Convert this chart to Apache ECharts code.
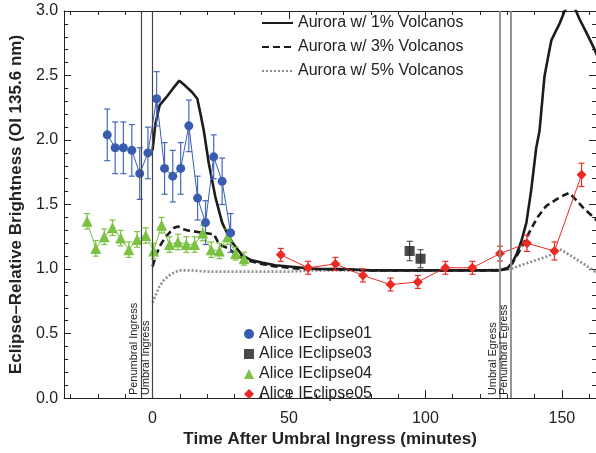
<!DOCTYPE html>
<html>
<head>
<meta charset="utf-8">
<script src="https://cdn.jsdelivr.net/npm/echarts@6/dist/echarts.min.js"></script>
<style>
  html, body { margin: 0; padding: 0; background: #fff; }
  #chart { width: 596px; height: 453px; }
</style>
</head>
<body>
<div id="chart"></div>
<script>
// Aurora model curves (eclipse-relative brightness vs. minutes after umbral ingress)
const model1Time = [0, 1, 2.6, 5, 7.5, 9.8, 12, 14.5, 16.4, 17.6, 18.8, 20.6, 23, 25.5, 27.3, 29.1, 32.7, 36, 40, 45, 50, 55, 60, 70, 80, 90, 100, 110, 120, 127.3, 130.2, 131.8, 133.3, 135.2, 137, 138.8, 140.6, 141.8, 143.6, 145, 146.1, 147.9, 149.1, 151, 153.4, 155.2, 156.4, 158.8, 161.8, 163];
const model1Value = [1.92, 2.12, 2.27, 2.33, 2.40, 2.46, 2.42, 2.37, 2.32, 2.20, 2.07, 1.82, 1.56, 1.36, 1.28, 1.21, 1.11, 1.07, 1.05, 1.03, 1.02, 1.01, 1.00, 1.00, 0.99, 0.99, 0.99, 0.99, 0.99, 0.99, 1.01, 1.05, 1.11, 1.22, 1.36, 1.62, 1.94, 2.07, 2.49, 2.65, 2.77, 2.85, 2.90, 3.00, 3.08, 3.00, 2.94, 2.84, 2.71, 2.65];

const model3Time = [0, 1.5, 3, 4.8, 7.9, 9.3, 11, 12.7, 15.8, 19, 22.5, 24.2, 25.5, 27.9, 30, 32.7, 36, 40, 45, 50, 55, 60, 80, 100, 120, 127.3, 130, 132, 135, 138.2, 141, 144.3, 148, 150.5, 152.7, 155, 158, 162.2, 163];
const model3Value = [1.02, 1.12, 1.19, 1.25, 1.32, 1.33, 1.31, 1.30, 1.29, 1.28, 1.27, 1.20, 1.18, 1.16, 1.12, 1.09, 1.06, 1.04, 1.02, 1.01, 1.00, 1.00, 0.99, 0.99, 0.99, 0.99, 1.00, 1.05, 1.16, 1.29, 1.40, 1.49, 1.54, 1.57, 1.59, 1.54, 1.47, 1.39, 1.37];

const model5Time = [0, 1.2, 2.4, 4, 6, 8, 9.7, 12, 14, 20, 30, 40, 50, 60, 80, 100, 120, 131.2, 135, 140.6, 145, 149.7, 152, 155, 158, 162.2, 163];
const model5Value = [0.74, 0.80, 0.86, 0.91, 0.95, 0.975, 0.99, 0.99, 0.99, 0.98, 0.98, 0.98, 0.98, 0.99, 0.99, 0.99, 0.99, 1.00, 1.03, 1.07, 1.10, 1.15, 1.12, 1.08, 1.04, 0.98, 0.98];

// Alice observations
const eclipse01Time = [-16.6, -13.7, -10.7, -7.6, -4.7, -1.7, 1.5, 4.4, 7.4, 10.3, 13.3, 16.5, 19.4, 22.4, 25.5, 28.6];
const eclipse01Value = [2.04, 1.94, 1.94, 1.92, 1.74, 1.90, 2.32, 1.78, 1.72, 1.78, 2.11, 1.55, 1.36, 1.87, 1.68, 1.28];
const eclipse01Err = [0.20, 0.20, 0.20, 0.20, 0.20, 0.20, 0.21, 0.20, 0.20, 0.20, 0.20, 0.17, 0.17, 0.17, 0.18, 0.15];

const eclipse03Time = [94.2, 98.2];
const eclipse03Value = [1.14, 1.08];
const eclipse03Err = [0.075, 0.07];

const eclipse04Time = [-24.0, -20.8, -17.7, -14.7, -11.7, -8.7, -5.7, -2.5, 0.4, 3.3, 6.2, 9.3, 12.4, 15.4, 18.4, 21.5, 24.5, 27.5, 30.4, 33.5];
const eclipse04Value = [1.37, 1.16, 1.25, 1.32, 1.24, 1.15, 1.23, 1.26, 1.14, 1.34, 1.19, 1.21, 1.19, 1.19, 1.28, 1.15, 1.14, 1.25, 1.12, 1.08];
const eclipse04Err = [0.06, 0.06, 0.06, 0.06, 0.06, 0.06, 0.06, 0.06, 0.06, 0.06, 0.06, 0.06, 0.06, 0.06, 0.06, 0.06, 0.06, 0.06, 0.05, 0.05];

const eclipse05Time = [47.0, 57.0, 67.0, 77.1, 87.2, 97.2, 107.3, 117.2, 127.3, 137.2, 147.3, 157.2];
const eclipse05Value = [1.11, 1.01, 1.04, 0.95, 0.88, 0.90, 1.01, 1.01, 1.12, 1.20, 1.14, 1.73];
const eclipse05Err = [0.05, 0.05, 0.05, 0.05, 0.05, 0.05, 0.05, 0.05, 0.057, 0.063, 0.07, 0.09];

// Shadow contact times (minutes after umbral ingress)
const contactNames = ['Penumbral Ingress', 'Umbral Ingress', 'Umbral Egress', 'Penumbral Egress'];
const contactTime = [-4.3, 0, 127.3, 131.3];

// Axis ticks
const xMajorTicks = [0, 50, 100, 150];
const xMinorTicks = [-30, -20, -10, 10, 20, 30, 40, 60, 70, 80, 90, 110, 120, 130, 140, 160];

const FONT = "'Liberation Sans', Arial, Helvetica, sans-serif";
const X_MIN = -32.4, X_MAX = 162.5;
const INK = '#222';

const zip = (a, b) => a.map((t, i) => [t, b[i]]);

function errorBarSeries(name, times, vals, errs, color, capHalf) {
  return {
    type: 'custom',
    name: name,
    z: 3,
    silent: true,
    data: times.map((t, i) => [t, vals[i] - errs[i], vals[i] + errs[i]]),
    encode: { x: 0, y: [1, 2] },
    renderItem: function (params, api) {
      const lo = api.coord([api.value(0), api.value(1)]);
      const hi = api.coord([api.value(0), api.value(2)]);
      const style = { stroke: color, lineWidth: 1.2 };
      return {
        type: 'group',
        children: [
          { type: 'line', shape: { x1: lo[0], y1: lo[1], x2: hi[0], y2: hi[1] }, style: style },
          { type: 'line', shape: { x1: lo[0] - capHalf, y1: lo[1], x2: lo[0] + capHalf, y2: lo[1] }, style: style },
          { type: 'line', shape: { x1: hi[0] - capHalf, y1: hi[1], x2: hi[0] + capHalf, y2: hi[1] }, style: style }
        ]
      };
    }
  };
}

function xAxisDef(position, ticks, len, withLine, withLabels) {
  return {
    type: 'value', min: X_MIN, max: X_MAX, position: position,
    axisLine: { show: withLine, onZero: false, lineStyle: { color: INK, width: 1 } },
    axisTick: { show: true, inside: true, length: len, customValues: ticks, lineStyle: { color: INK, width: 1 } },
    axisLabel: { show: withLabels, customValues: ticks, fontSize: 16, color: INK, margin: 12, fontFamily: FONT },
    splitLine: { show: false }
  };
}

function yAxisDef(position, withLabels) {
  return {
    type: 'value', min: 0, max: 3, interval: 0.5, position: position,
    axisLine: { show: true, onZero: false, lineStyle: { color: INK, width: 1 } },
    axisTick: { show: true, inside: true, length: 7, lineStyle: { color: INK } },
    minorTick: { show: true, splitNumber: 5, length: 4, lineStyle: { color: INK } },
    axisLabel: { show: withLabels, fontSize: 16, color: INK, margin: 6, fontFamily: FONT,
      formatter: v => v.toFixed(1) },
    splitLine: { show: false }
  };
}

const xBottom = xAxisDef('bottom', xMajorTicks, 8, true, true);
xBottom.name = 'Time After Umbral Ingress (minutes)';
xBottom.nameLocation = 'middle';
xBottom.nameGap = 27;
xBottom.nameTextStyle = { fontSize: 17, fontWeight: 'bold', color: INK, fontFamily: FONT };

const yLeft = yAxisDef('left', true);
yLeft.name = 'Eclipse\u2013Relative Brightness (OI 135.6 nm)';
yLeft.nameLocation = 'middle';
yLeft.nameGap = 36;
yLeft.nameTextStyle = { fontSize: 17, fontWeight: 'bold', color: INK, fontFamily: FONT };

const contactLines = contactTime.map((t, i) => {
  const ingress = i < 2;
  return [
    { name: contactNames[i], coord: [t, 0],
      lineStyle: { color: ingress ? '#444' : '#8a8a8a', width: ingress ? 1.2 : 1.8, type: 'solid' } },
    { coord: [t, 3] }
  ];
});

const BLUE = '#3a5cb0', GREEN = '#7cc242', RED = '#ec2a24', BLACK = '#1c1c1c';

const option = {
  animation: false,
  backgroundColor: '#fff',
  textStyle: { fontFamily: FONT },
  grid: { left: 61, top: 11, width: 536, height: 398 },
  xAxis: [
    xBottom,
    xAxisDef('bottom', xMinorTicks, 4, false, false),
    xAxisDef('top', xMajorTicks, 8, true, false),
    xAxisDef('top', xMinorTicks, 4, false, false)
  ],
  yAxis: [yLeft, yAxisDef('right', false)],
  legend: [
    {
      orient: 'vertical', left: 256, top: 10, itemWidth: 31, itemHeight: 14, itemGap: 8,
      selectedMode: false,
      itemStyle: { opacity: 0 },
      textStyle: { fontSize: 16, color: INK, lineHeight: 16, fontFamily: FONT },
      data: ['Aurora w/ 1% Volcanos', 'Aurora w/ 3% Volcanos', 'Aurora w/ 5% Volcanos']
    },
    {
      orient: 'vertical', left: 239, top: 321, itemWidth: 10, itemHeight: 10, itemGap: 4,
      selectedMode: false,
      textStyle: { fontSize: 16, color: INK, lineHeight: 16, fontFamily: FONT },
      data: [
        { name: 'Alice IEclipse01', icon: 'circle' },
        { name: 'Alice IEclipse03', icon: 'rect' },
        { name: 'Alice IEclipse04', icon: 'triangle' },
        { name: 'Alice IEclipse05', icon: 'diamond' }
      ]
    }
  ],
  series: [
    {
      type: 'line', name: 'contacts', data: [], silent: true,
      markLine: {
        silent: true, symbol: ['none', 'none'], animation: false,
        label: { show: true, position: 'insideStartTop', formatter: '{b}', fontSize: 11,
          color: INK, distance: [3, 1], fontFamily: FONT },
        data: contactLines
      }
    },
    {
      type: 'line', name: 'Aurora w/ 5% Volcanos', data: zip(model5Time, model5Value),
      symbol: 'none', z: 2, lineStyle: { color: '#8e8e8e', width: 2.6, type: [2, 2] },
      itemStyle: { color: '#8e8e8e' }
    },
    {
      type: 'line', name: 'Aurora w/ 3% Volcanos', data: zip(model3Time, model3Value),
      symbol: 'none', z: 2, lineStyle: { color: BLACK, width: 2.6, type: [7, 4] },
      itemStyle: { color: BLACK }
    },
    {
      type: 'line', name: 'Aurora w/ 1% Volcanos', data: zip(model1Time, model1Value),
      symbol: 'none', z: 2, lineStyle: { color: BLACK, width: 2.6 },
      itemStyle: { color: BLACK }
    },
    errorBarSeries('err04', eclipse04Time, eclipse04Value, eclipse04Err, GREEN, 3),
    {
      type: 'line', name: 'Alice IEclipse04', data: zip(eclipse04Time, eclipse04Value),
      symbol: 'triangle', symbolSize: 11, z: 4,
      itemStyle: { color: GREEN }, lineStyle: { color: GREEN, width: 1 }
    },
    errorBarSeries('err01', eclipse01Time, eclipse01Value, eclipse01Err, '#4568bb', 3),
    {
      type: 'line', name: 'Alice IEclipse01', data: zip(eclipse01Time, eclipse01Value),
      symbol: 'circle', symbolSize: 9, z: 4,
      itemStyle: { color: BLUE }, lineStyle: { color: BLUE, width: 1 }
    },
    errorBarSeries('err03', eclipse03Time, eclipse03Value, eclipse03Err, '#555', 3),
    {
      type: 'scatter', name: 'Alice IEclipse03', data: zip(eclipse03Time, eclipse03Value),
      symbol: 'rect', symbolSize: 10, z: 4, itemStyle: { color: BLACK }
    },
    errorBarSeries('err05', eclipse05Time, eclipse05Value, eclipse05Err, RED, 3),
    {
      type: 'line', name: 'Alice IEclipse05', data: zip(eclipse05Time, eclipse05Value),
      symbol: 'diamond', symbolSize: 10, z: 4,
      itemStyle: { color: RED }, lineStyle: { color: RED, width: 1 }
    }
  ]
};

const chart = echarts.init(document.getElementById('chart'), null, { renderer: 'canvas' });
chart.setOption(option);
</script>
</body>
</html>
